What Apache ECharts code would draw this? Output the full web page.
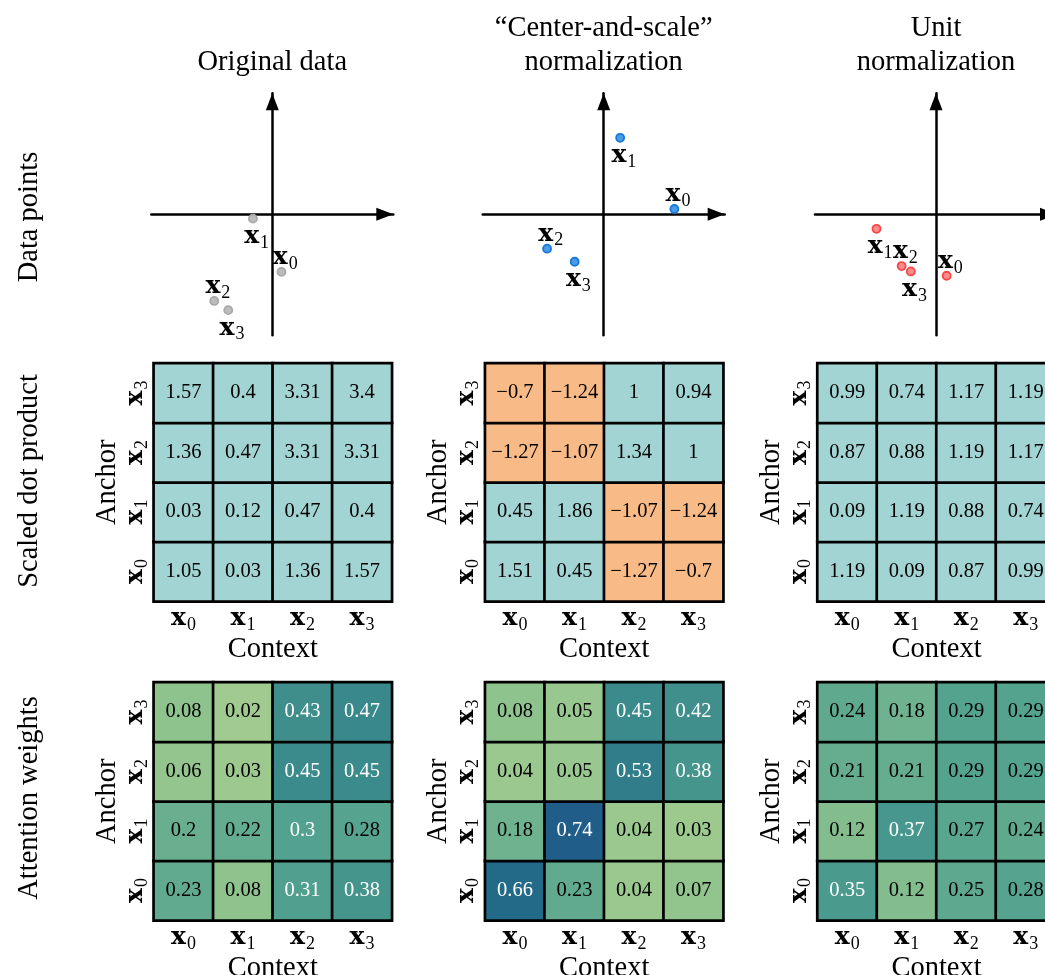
<!DOCTYPE html>
<html><head><meta charset="utf-8">
<script src="https://cdn.jsdelivr.net/npm/echarts@6/dist/echarts.min.js"></script>
<style>html,body{margin:0;padding:0;background:#fff}#c{width:1045px;height:975px}</style>
</head><body><div id="c"></div>
<script>
// ---------- data ----------
const subscripts = ['0', '1', '2', '3'];
const columnTitles = [['Original data'], ['\u201cCenter-and-scale\u201d', 'normalization'], ['Unit', 'normalization']];
const rowTitles = ['Data points', 'Scaled dot product', 'Attention weights'];
const contextName = 'Context';
const anchorName = 'Anchor';

const pointsOriginal    = [[0.19, -1.19], [-0.40, -0.09], [-1.20, -1.79], [-0.91, -1.98]];
const pointsCenterScale = [[1.46, 0.11], [0.34, 1.58], [-1.17, -0.71], [-0.60, -0.98]];
const pointsUnit        = [[0.22, -1.27], [-1.23, -0.30], [-0.71, -1.07], [-0.52, -1.18]];

// rows = anchor x0..x3, columns = context x0..x3
const dotOriginal    = [[1.05, 0.03, 1.36, 1.57], [0.03, 0.12, 0.47, 0.4], [1.36, 0.47, 3.31, 3.31], [1.57, 0.4, 3.31, 3.4]];
const dotCenterScale = [[1.51, 0.45, -1.27, -0.7], [0.45, 1.86, -1.07, -1.24], [-1.27, -1.07, 1.34, 1], [-0.7, -1.24, 1, 0.94]];
const dotUnit        = [[1.19, 0.09, 0.87, 0.99], [0.09, 1.19, 0.88, 0.74], [0.87, 0.88, 1.19, 1.17], [0.99, 0.74, 1.17, 1.19]];

const attnOriginal    = [[0.23, 0.08, 0.31, 0.38], [0.2, 0.22, 0.3, 0.28], [0.06, 0.03, 0.45, 0.45], [0.08, 0.02, 0.43, 0.47]];
const attnCenterScale = [[0.66, 0.23, 0.04, 0.07], [0.18, 0.74, 0.04, 0.03], [0.04, 0.05, 0.53, 0.38], [0.08, 0.05, 0.45, 0.42]];
const attnUnit        = [[0.35, 0.12, 0.25, 0.28], [0.12, 0.37, 0.27, 0.24], [0.21, 0.21, 0.29, 0.29], [0.24, 0.18, 0.29, 0.29]];

// ---------- layout & style ----------
const colCenters = [272.3, 603.7, 936];
const scatterCY = 214.3, scatterHalf = 121, axisRange = 2.5;
const heatTops = [363.3, 682.3], heatSize = 238;
const labelSide = ['above', 'below', 'above', 'below'];
const pointColors = [
  { fill: '#bdbdbd', border: '#a8a8a8' },
  { fill: '#4a9be8', border: '#1a78d6' },
  { fill: '#ff8a8a', border: '#f44848' }
];
const posColor = '#a3d4d4', negColor = '#f8ba86';
const crest = ['#a5cd90', '#8ac08d', '#68ae8f', '#52a28f', '#43928d', '#35838a', '#287389', '#1f6488', '#22548a', '#284284', '#2c3172'];
const serif = 'Liberation Serif';
const mathRich = {
  x: { fontFamily: 'DejaVu Serif', fontWeight: 'bold', fontSize: 25, color: '#000' },
  s: { fontFamily: serif, fontSize: 18, color: '#000', padding: [13, 0, 0, 1] }
};
const mathLabel = (sub) => '{x|x}{s|' + sub + '}';

const grids = [], xAxes = [], yAxes = [], series = [];
const pointSets = [pointsOriginal, pointsCenterScale, pointsUnit];
const dotSets = [dotOriginal, dotCenterScale, dotUnit];
const attnSets = [attnOriginal, attnCenterScale, attnUnit];

const hiddenValueAxis = (gi) => ({
  type: 'value', gridIndex: gi, min: -axisRange, max: axisRange,
  axisLine: { show: true, onZero: true, symbol: ['none', 'triangle'], symbolSize: [13, 17], symbolOffset: [0, -8.5],
              lineStyle: { color: '#000', width: 2.5 } },
  axisTick: { show: false }, axisLabel: { show: false }, splitLine: { show: false }
});

// scatter panels
pointSets.forEach((pts, i) => {
  const gi = grids.length;
  grids.push({ left: colCenters[i] - scatterHalf, top: scatterCY - scatterHalf, width: 2 * scatterHalf, height: 2 * scatterHalf, containLabel: false, outerBoundsMode: 'none' });
  xAxes.push(hiddenValueAxis(gi));
  yAxes.push(hiddenValueAxis(gi));
  series.push({
    type: 'scatter', xAxisIndex: gi, yAxisIndex: gi, symbol: 'circle', symbolSize: 8, z: 5,
    itemStyle: { color: pointColors[i].fill, borderColor: pointColors[i].border, borderWidth: 1.8, opacity: 1 },
    label: { show: true, position: 'inside', rich: mathRich },
    data: pts.map((p, k) => ({
      value: p,
      label: { formatter: mathLabel(subscripts[k]), offset: [3.7, labelSide[k] === 'above' ? -14.5 : 18] }
    }))
  });
});

const heatAxisX = (gi) => ({
  type: 'category', gridIndex: gi, data: subscripts,
  axisLine: { show: false }, axisTick: { show: false }, splitLine: { show: false },
  axisLabel: { interval: 0, formatter: (v) => mathLabel(v), rich: mathRich, margin: 2 },
  name: contextName, nameLocation: 'middle', nameGap: 28,
  nameTextStyle: { fontFamily: serif, fontSize: 28.5, color: '#000' }
});
const heatAxisY = (gi) => ({
  type: 'category', gridIndex: gi, data: subscripts,
  axisLine: { show: false }, axisTick: { show: false }, splitLine: { show: false },
  axisLabel: { interval: 0, formatter: (v) => mathLabel(v), rich: mathRich, margin: 3, rotate: 90 },
  name: anchorName, nameLocation: 'middle', nameGap: 21,
  nameTextStyle: { fontFamily: serif, fontSize: 28.5, color: '#000' }
});
const fmtNum = (v) => String(v).replace('-', '\u2212');

[dotSets, attnSets].forEach((sets, row) => {
  sets.forEach((mat, i) => {
    const gi = grids.length;
    grids.push({ left: colCenters[i] - 118.5, top: heatTops[row], width: heatSize, height: heatSize, containLabel: false, outerBoundsMode: 'none' });
    xAxes.push(heatAxisX(gi));
    yAxes.push(heatAxisY(gi));
    const data = [];
    mat.forEach((rowVals, r) => rowVals.forEach((v, c) => data.push([c, r, v])));
    series.push({
      type: 'heatmap', xAxisIndex: gi, yAxisIndex: gi, data,
      itemStyle: { borderColor: '#000', borderWidth: 2.7 },
      emphasis: { disabled: true },
      label: {
        show: true,
        formatter: (p) => (row === 1 && p.value[2] >= 0.3 ? '{w|' : '{k|') + fmtNum(p.value[2]) + '}',
        rich: {
          k: { fontFamily: serif, fontSize: 20.5, color: '#000' },
          w: { fontFamily: serif, fontSize: 20.5, color: '#fff' }
        }
      }
    });
  });
});

const graphics = [];
columnTitles.forEach((lines, i) => {
  lines.forEach((t, k) => {
    graphics.push({ type: 'text', x: colCenters[i], y: 63 - (lines.length - 1 - k) * 34,
      style: { text: t, font: '28.5px "' + serif + '"', fill: '#000', textAlign: 'center', textVerticalAlign: 'middle' } });
  });
});
const rowCenters = [217, 481, 798];
rowTitles.forEach((t, j) => {
  graphics.push({ type: 'text', x: 30, y: rowCenters[j], rotation: Math.PI / 2,
    style: { text: t, font: '28.5px "' + serif + '"', fill: '#000', textAlign: 'center', textVerticalAlign: 'middle' } });
});

const chart = echarts.init(document.getElementById('c'), null, { renderer: 'canvas' });
chart.setOption({
  backgroundColor: '#fff',
  animation: false,
  grid: grids, xAxis: xAxes, yAxis: yAxes, series,
  visualMap: [
    { type: 'piecewise', show: false, seriesIndex: [3, 4, 5], dimension: 2,
      pieces: [{ lt: 0, color: negColor }, { gte: 0, color: posColor }] },
    { type: 'continuous', show: false, seriesIndex: [6, 7, 8], dimension: 2, min: 0, max: 1,
      inRange: { color: crest } }
  ],
  graphic: graphics
});
</script></body></html>
